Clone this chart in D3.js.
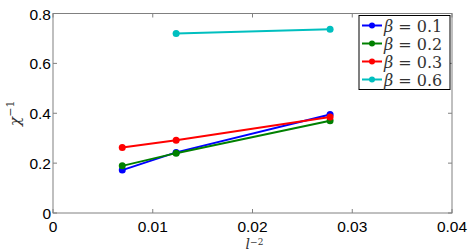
<!DOCTYPE html>
<html>
<head>
<meta charset="UTF-8"/>
<script src="https://d3js.org/d3.v7.min.js"></script>
<style>
  body { margin: 0; background: #fff; }
  svg { display: block; }
</style>
</head>
<body>
<div id="chart"></div>
<script>
// data: x = l^-2, y = chi^-1
var betas = ["0.1", "0.2", "0.3", "0.6"];
var colors = ["#0000ff", "#008000", "#ff0000", "#00bfbf"];
var xBeta01 = [1/144, 1/81, 1/36];
var yBeta01 = [0.172, 0.243, 0.395];
var xBeta02 = [1/144, 1/81, 1/36];
var yBeta02 = [0.189, 0.240, 0.370];
var xBeta03 = [1/144, 1/81, 1/36];
var yBeta03 = [0.263, 0.292, 0.385];
var xBeta06 = [1/81, 1/36];
var yBeta06 = [0.720, 0.737];
var xTicks = [0, 0.01, 0.02, 0.03, 0.04];
var yTicks = [0, 0.2, 0.4, 0.6, 0.8];

var series = [
  {x: xBeta01, y: yBeta01},
  {x: xBeta02, y: yBeta02},
  {x: xBeta03, y: yBeta03},
  {x: xBeta06, y: yBeta06}
];

var W = 474, H = 252;
var margin = {top: 13.5, right: 22, bottom: 39, left: 53};

var svg = d3.select("#chart").append("svg")
    .attr("width", W).attr("height", H);

var x = d3.scaleLinear().domain([0, 0.04]).range([margin.left, W - margin.right]);
var y = d3.scaleLinear().domain([0, 0.8]).range([H - margin.bottom, margin.top]);

var axisColor = "#808080";
var tickFont = "Liberation Sans, Arial, sans-serif";

// frame
svg.append("rect")
    .attr("x", x(0)).attr("y", y(0.8))
    .attr("width", x(0.04) - x(0)).attr("height", y(0) - y(0.8))
    .attr("fill", "none").attr("stroke", axisColor).attr("stroke-width", 1);

// inward ticks on all sides
var tl = 4;
xTicks.forEach(function(t) {
  svg.append("line").attr("x1", x(t)).attr("x2", x(t)).attr("y1", y(0)).attr("y2", y(0) - tl)
      .attr("stroke", axisColor);
  svg.append("line").attr("x1", x(t)).attr("x2", x(t)).attr("y1", y(0.8)).attr("y2", y(0.8) + tl)
      .attr("stroke", axisColor);
});
yTicks.forEach(function(t) {
  svg.append("line").attr("x1", x(0)).attr("x2", x(0) + tl).attr("y1", y(t)).attr("y2", y(t))
      .attr("stroke", axisColor);
  svg.append("line").attr("x1", x(0.04)).attr("x2", x(0.04) - tl).attr("y1", y(t)).attr("y2", y(t))
      .attr("stroke", axisColor);
});

// tick labels
svg.selectAll(".xt").data(xTicks).enter().append("text")
    .attr("x", function(d) { return x(d); })
    .attr("y", y(0) + 19)
    .attr("text-anchor", "middle")
    .attr("font-family", tickFont).attr("font-size", "15.5px").attr("fill", "#000")
    .text(function(d) { return d === 0 ? "0" : d3.format(".2f")(d); });

svg.selectAll(".yt").data(yTicks).enter().append("text")
    .attr("x", x(0) - 2)
    .attr("y", function(d) { return y(d) + 6; })
    .attr("text-anchor", "end")
    .attr("font-family", tickFont).attr("font-size", "15.5px").attr("fill", "#000")
    .text(function(d) { return d === 0 ? "0" : d3.format(".1f")(d); });

// axis labels
var xl = svg.append("text")
    .attr("x", (x(0) + x(0.04)) / 2 + 2).attr("y", 248.5)
    .attr("text-anchor", "middle")
    .attr("font-family", "DejaVu Serif, serif").attr("fill", "#333");
xl.append("tspan").attr("font-style", "italic").attr("font-size", "14px").text("l");
xl.append("tspan").attr("font-size", "9px").attr("dy", -4).text("\u22122");

var yl = svg.append("text")
    .attr("transform", "translate(20," + ((y(0) + y(0.8)) / 2) + ") rotate(-90)")
    .attr("text-anchor", "middle")
    .attr("font-family", "DejaVu Serif, serif").attr("fill", "#333");
yl.append("tspan").attr("font-style", "italic").attr("font-size", "15px").text("\u03c7");
yl.append("tspan").attr("font-size", "11px").attr("dy", -6).text("\u22121");

// lines and markers
var line = d3.line().x(function(d) { return x(d[0]); }).y(function(d) { return y(d[1]); });
series.forEach(function(s, i) {
  var pts = d3.zip(s.x, s.y);
  svg.append("path").datum(pts)
      .attr("d", line)
      .attr("fill", "none").attr("stroke", colors[i]).attr("stroke-width", 2);
  svg.selectAll(".m" + i).data(pts).enter().append("circle")
      .attr("cx", function(d) { return x(d[0]); })
      .attr("cy", function(d) { return y(d[1]); })
      .attr("r", 3.5).attr("fill", colors[i]);
});

// legend
var lg = svg.append("g").attr("transform", "translate(359,15.5)");
lg.append("rect").attr("width", 91).attr("height", 74)
    .attr("fill", "#fff").attr("stroke", "#000").attr("stroke-width", 1);
betas.forEach(function(b, i) {
  var yy = 10 + i * 18;
  lg.append("line").attr("x1", 3).attr("x2", 23).attr("y1", yy).attr("y2", yy)
      .attr("stroke", colors[i]).attr("stroke-width", 2);
  lg.append("circle").attr("cx", 13).attr("cy", yy).attr("r", 3).attr("fill", colors[i]);
  var t = lg.append("text").attr("x", 25).attr("y", yy + 6)
      .attr("font-family", "DejaVu Serif, serif").attr("font-size", "16px").attr("fill", "#333");
  t.append("tspan").attr("font-style", "italic").text("\u03b2");
  t.append("tspan").text(" = " + b);
});
</script>
</body>
</html>
